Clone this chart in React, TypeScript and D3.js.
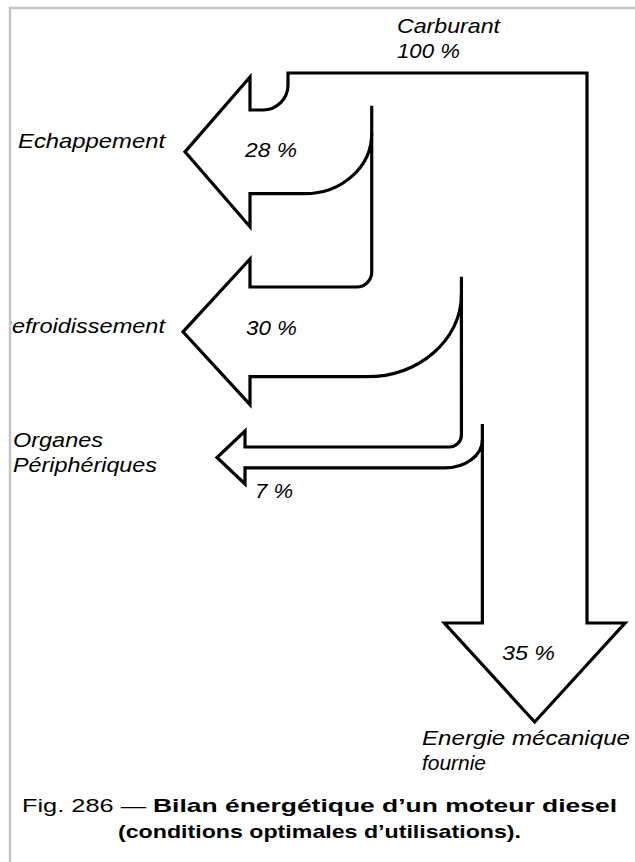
import React from 'react';
import * as d3 from 'd3';

// energy balance of a diesel engine (percent of fuel energy)
const categories = ['Echappement', 'Refroidissement', 'Organes\nPériphériques', 'Energie mécanique\nfournie'];
const percents = [28, 30, 7, 35];
const sourceName = 'Carburant';
const sourcePercent = 100;
const captionPrefix = 'Fig. 286 —';
const captionLines = ['Bilan énergétique d’un moteur diesel', '(conditions optimales d’utilisations).'];

const W = 635;
const H = 862;
const outX = 587;
const topY = 73;
// cumulative percent -> x of the left edge of the remaining flow
const x = d3.scaleLinear().domain([0, 100]).range([288, outX]);
const k = (v: number) => x(v) - x(0);

// side arrows layout
const shaftTop = [110, 287, 447];
const headBase = [250, 250, 245];
const tipX = [185, 183, 217];
const headExtra = [33, 28, 16];
const cornerR = [25, 15, 12];
const curveRx = [67, 95, 38];
const curveRy = [60, 82, 28];
const stub = [28, 18, 16];
// down arrow
const downHeadY = 623;
const downTipY = 722;
const downExtra = 38;

const nameLayout = [
  { x: 18, y: [148], w: [147] },
  { x: -5, y: [333], w: [170] },
  { x: 13, y: [447, 472], w: [90, 144] },
  { x: 422, y: [745, 770], w: [208, 64] },
];
const pctLayout = [
  { x: 245, y: 157, w: 52 },
  { x: 246, y: 335, w: 51 },
  { x: 255, y: 498, w: 38 },
  { x: 502, y: 660, w: 53 },
];

const KAPPA = 0.5523;

function buildOutline() {
  const n = percents.length - 1; // side branches
  const cum = d3.cumsum(percents);
  const edges = [x(0), ...Array.from(cum.slice(0, n), c => x(c))];
  const yb = shaftTop.map((t, i) => t + k(percents[i]));
  const e3 = edges[n];
  const downMid = (e3 + outX) / 2;

  const p = d3.path();
  p.moveTo(edges[0], topY);
  p.lineTo(outX, topY);
  p.lineTo(outX, downHeadY);
  p.lineTo(outX + downExtra, downHeadY);
  p.lineTo(downMid, downTipY);
  p.lineTo(e3 - downExtra, downHeadY);
  p.lineTo(e3, downHeadY);

  for (let i = n - 1; i >= 0; i--) {
    const E = edges[i + 1];
    const rx = curveRx[i], ry = curveRy[i];
    const yj = yb[i] - ry;
    p.lineTo(E, yj);
    p.bezierCurveTo(E, yj + KAPPA * ry, E - rx + KAPPA * rx, yb[i], E - rx, yb[i]);
    p.lineTo(headBase[i], yb[i]);
    p.lineTo(headBase[i], yb[i] + headExtra[i]);
    p.lineTo(tipX[i], (shaftTop[i] + yb[i]) / 2);
    p.lineTo(headBase[i], shaftTop[i] - headExtra[i]);
    p.lineTo(headBase[i], shaftTop[i]);
    const Ep = edges[i];
    const r = cornerR[i];
    p.lineTo(Ep - r, shaftTop[i]);
    p.bezierCurveTo(Ep - r + KAPPA * r, shaftTop[i], Ep, shaftTop[i] - r + KAPPA * r, Ep, shaftTop[i] - r);
  }
  p.closePath();

  // short vertical overshoots above where each curve meets the next edge
  const stubs = d3.path();
  for (let i = 0; i < n; i++) {
    const E = edges[i + 1];
    const yj = yb[i] - curveRy[i];
    stubs.moveTo(E, yj - stub[i]);
    stubs.lineTo(E, yj + 2);
  }
  return { outline: p.toString(), stubs: stubs.toString() };
}

export default function App() {
  const { outline, stubs } = buildOutline();
  const italic = { fontFamily: '"Liberation Sans", Arial, sans-serif', fontStyle: 'italic', fontSize: 21 };
  const caption = { fontFamily: '"Liberation Sans", Arial, sans-serif', fontSize: 19 };

  return (
    <svg width={W} height={H} style={{ position: 'absolute', left: 0, top: 0, background: '#fff' }}>
      <defs>
        <clipPath id="page">
          <rect x={11} y={9} width={W} height={H} />
        </clipPath>
      </defs>
      <rect width={W} height={H} fill="#fff" />
      {/* scan frame */}
      <line x1={10} y1={8} x2={W} y2={8} stroke="#c4c4c4" strokeWidth={2.5} />
      <line x1={10} y1={7} x2={10} y2={H} stroke="#c4c4c4" strokeWidth={2.5} />

      <g clipPath="url(#page)">
        <path d={outline} fill="none" stroke="#000" strokeWidth={3.2} strokeLinejoin="miter" />
        <path d={stubs} fill="none" stroke="#000" strokeWidth={3.2} />

        <text x={397} y={33} textLength={103} lengthAdjust="spacingAndGlyphs" style={italic}>{sourceName}</text>
        <text x={397} y={58} textLength={63} lengthAdjust="spacingAndGlyphs" style={italic}>{`${sourcePercent} %`}</text>

        {categories.map((c, i) =>
          c.split('\n').map((line, j) => (
            <text key={`${i}-${j}`} x={nameLayout[i].x} y={nameLayout[i].y[j]} textLength={nameLayout[i].w[j]}
              lengthAdjust="spacingAndGlyphs" style={italic}>{line}</text>
          ))
        )}

        {percents.map((v, i) => (
          <text key={`p${i}`} x={pctLayout[i].x} y={pctLayout[i].y} textLength={pctLayout[i].w}
            lengthAdjust="spacingAndGlyphs" style={italic}>{`${v} %`}</text>
        ))}

        <text x={22} y={812} textLength={124} lengthAdjust="spacingAndGlyphs" style={caption}>{captionPrefix}</text>
        <text x={153} y={812} textLength={464} lengthAdjust="spacingAndGlyphs" fontWeight="bold" style={caption}>{captionLines[0]}</text>
        <text x={118} y={838} textLength={403} lengthAdjust="spacingAndGlyphs" fontWeight="bold" style={caption}>{captionLines[1]}</text>
      </g>
    </svg>
  );
}
